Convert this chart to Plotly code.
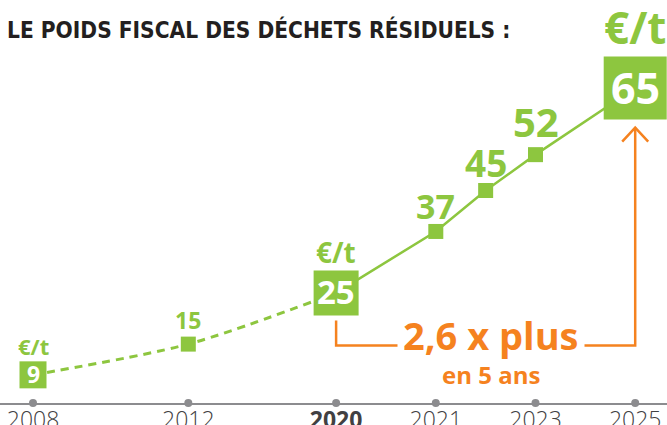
import numpy as np
import plotly.graph_objects as go

# ---------------- data ----------------
years = [2008, 2012, 2020, 2021, 2022, 2023, 2025]
values = [9, 15, 25, 37, 45, 52, 65]
tick_years = [2008, 2012, 2020, 2021, 2023, 2025]
tick_labels = ["2008", "2012", "<b>2020</b>", "2021", "2023", "2025"]
title_text = "LE POIDS FISCAL DES DÉCHETS RÉSIDUELS :"
unit_text = "€/t"
growth_text = "2,6 x plus"
growth_sub = "en 5 ans"
boxed_years = [2008, 2020, 2025]
dashed_until = 2020

# ---------------- styles ----------------
GREEN = "#8DC63F"
ORANGE = "#F5821F"
DARK = "#231F20"
GREY = "#8C8C8F"
FONT = "Open Sans"

# piecewise (broken) horizontal scale: year -> axis slot
scale_years = [2008, 2012, 2020, 2021, 2025]
scale_slots = [0.0, 3.1, 6.05, 8.04, 12.02]


def slot(y):
    return float(np.interp(y, scale_years, scale_slots))


W, H = 667, 425
MT, MB = 0, 22
YMIN, YMAX = 3.5, 82.2
PPU = (H - MT - MB) / (YMAX - YMIN)  # pixels per value unit

xs = [slot(y) for y in years]

box_size = {2008: 27, 2020: 45, 2025: 63}
box_font = {2008: 23, 2020: 33, 2025: 43}
unit_font = {2008: 22, 2020: 28, 2025: 44}
unit_shift = {2008: 27, 2020: 38, 2025: 57}
lab_font = {2012: 23, 2021: 34, 2022: 37, 2023: 40}
lab_shift = {2012: 24, 2021: 25, 2022: 28, 2023: 33}

fig = go.Figure()

# dashed early segment
dx = [x for x, y in zip(xs, years) if y <= dashed_until]
dv = [v for v, y in zip(values, years) if y <= dashed_until]
fig.add_trace(go.Scatter(x=dx, y=dv, mode="lines",
                         line=dict(color=GREEN, width=3, dash="8px,6px", shape="spline", smoothing=0.8),
                         hoverinfo="skip", showlegend=False))
# solid later segment
sx = [x for x, y in zip(xs, years) if y >= dashed_until]
sv = [v for v, y in zip(values, years) if y >= dashed_until]
fig.add_trace(go.Scatter(x=sx, y=sv, mode="lines",
                         line=dict(color=GREEN, width=2.5),
                         hoverinfo="skip", showlegend=False))

# orange bracket
x20, x25 = slot(2020), slot(2025)
v20 = values[years.index(2020)]
v25 = values[years.index(2025)]
top_left = v20 - (box_size[2020] / 2 + 5) / PPU
bracket_y = v20 - (box_size[2020] / 2 + 30) / PPU
tip_y = v25 - (box_size[2025] / 2 + 8) / PPU
fig.add_trace(go.Scatter(x=[x20, x20, x25, x25], y=[top_left, bracket_y, bracket_y, tip_y],
                         mode="lines", line=dict(color=ORANGE, width=2.5),
                         hoverinfo="skip", showlegend=False, cliponaxis=False))
# arrow head (open chevron)
hw = 13 / 50.1
hh = 14 / PPU
fig.add_trace(go.Scatter(x=[x25 - hw, x25, x25 + hw], y=[tip_y - hh, tip_y, tip_y - hh],
                         mode="lines", line=dict(color=ORANGE, width=2.5),
                         hoverinfo="skip", showlegend=False, cliponaxis=False))

# markers
sizes = [box_size.get(y, 15) for y in years]
fig.add_trace(go.Scatter(x=xs, y=values, mode="markers",
                         marker=dict(symbol="square", size=sizes, color=GREEN, opacity=1,
                                     line=dict(width=0)),
                         hoverinfo="skip", showlegend=False, cliponaxis=False))

# axis tick dots
fig.add_trace(go.Scatter(x=[slot(y) for y in tick_years], y=[YMIN] * len(tick_years), mode="markers",
                         marker=dict(symbol="circle", size=8, color=GREY, opacity=1),
                         hoverinfo="skip", showlegend=False, cliponaxis=False))

ann = []
for x, v, yr in zip(xs, values, years):
    if yr in boxed_years:
        ann.append(dict(x=x, y=v, text=f"<b>{v}</b>", showarrow=False,
                        font=dict(family=FONT, size=box_font[yr], color="white"), yshift=1))
        ann.append(dict(x=x, y=v, text=f"<b>{unit_text}</b>", showarrow=False,
                        font=dict(family=FONT, size=unit_font[yr], color=GREEN),
                        yshift=unit_shift[yr] + unit_font[yr] * 0.1))
    else:
        ann.append(dict(x=x, y=v, text=f"<b>{v}</b>", showarrow=False,
                        font=dict(family=FONT, size=lab_font[yr], color=GREEN),
                        yshift=lab_shift[yr]))

mid = (x20 + x25) / 2 + 0.1
ann.append(dict(x=mid, y=bracket_y, text=f"<b>{growth_text}</b>", showarrow=False,
                font=dict(family=FONT, size=38, color=ORANGE), bgcolor="white",
                borderpad=5, yshift=10))
ann.append(dict(x=mid, y=bracket_y, text=f"<b>{growth_sub}</b>", showarrow=False,
                font=dict(family=FONT, size=24, color=ORANGE), yshift=-29))

ann.append(dict(xref="paper", yref="paper", x=5 / W, y=1 - 29 / (H - MT - MB),
                xanchor="left", yanchor="middle", showarrow=False,
                text=f"<b>{title_text}</b>",
                font=dict(family="Liberation Sans Narrow, DejaVu Sans Condensed, Open Sans", size=22.5, color=DARK)))

fig.update_layout(
    width=W, height=H,
    margin=dict(l=0, r=0, t=MT, b=MB, pad=0),
    paper_bgcolor="white", plot_bgcolor="white",
    xaxis=dict(range=[-33 / 50.1, (W - 33) / 50.1], tickmode="array",
               tickvals=[slot(y) for y in tick_years], ticktext=tick_labels,
               showline=True, linecolor=GREY, linewidth=2, showgrid=False, zeroline=False,
               ticks="", tickfont=dict(family=FONT, size=23, color="#414042", weight=300),
               ticklabelstandoff=-5,
               fixedrange=True, automargin=False),
    yaxis=dict(range=[YMIN, YMAX], visible=False, fixedrange=True),
    annotations=ann,
    showlegend=False,
)

fig.write_html("out.html", config={"displayModeBar": False},
               post_script="document.body.style.margin='0';document.body.style.overflow='hidden';")
